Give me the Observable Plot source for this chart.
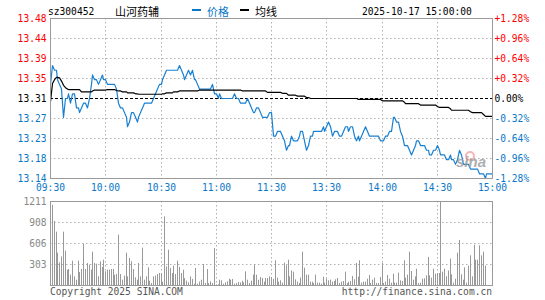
<!DOCTYPE html>
<html><head><meta charset="utf-8">
<script src="https://cdn.jsdelivr.net/npm/d3@7"></script>
<script src="https://cdn.jsdelivr.net/npm/@observablehq/plot@0.6"></script>
<style>
body{margin:0;background:#fff;}
#wrap{position:relative;width:545px;height:300px;overflow:hidden;font-family:"DejaVu Sans Mono",monospace;}
#wrap svg{position:absolute;left:0;top:0;overflow:visible;}
.t{position:absolute;white-space:nowrap;font-size:9.6px;line-height:10px;}
.c{position:absolute;white-space:nowrap;font-size:11px;line-height:12px;font-family:"Noto Sans CJK SC",sans-serif;}
.dash{position:absolute;height:2px;width:9px;}
</style></head><body><div id="wrap"></div>
<script>
const stockCode = "sz300452";
const stockName = "山河药辅";
const legendPrice = "价格";
const legendAvg = "均线";
const stamp = "2025-10-17 15:00:00";
const copyright = "Copyright 2025 SINA.COM";
const site = "http://finance.sina.com.cn";
const prevClose = 13.31;

const timeTicks = [0, 30, 60, 90, 120, 150, 180, 210, 240];
const timeLabels = ["09:30","10:00","10:30","11:00","11:30","13:30","14:00","14:30","15:00"];
const priceTicks = [13.48, 13.4375, 13.395, 13.3525, 13.31, 13.2675, 13.225, 13.1825, 13.14];
const priceLabels = ["13.48","13.44","13.39","13.35","13.31","13.27","13.23","13.18","13.14"];
const pctLabels = ["+1.28%","+0.96%","+0.64%","+0.32%","0.00%","-0.32%","-0.64%","-0.96%","-1.28%"];
const volTicks = [1211, 908.25, 605.5, 302.75];
const volLabels = ["1211","908","606","303"];

const price = [
13.34,13.38,13.37,13.37,13.35,13.34,13.33,13.27,13.31,13.31,
13.32,13.30,13.32,13.32,13.29,13.29,13.28,13.29,13.30,13.30,
13.29,13.31,13.34,13.36,13.35,13.35,13.34,13.35,13.36,13.35,
13.35,13.34,13.34,13.34,13.34,13.34,13.33,13.30,13.29,13.29,
13.28,13.27,13.25,13.26,13.28,13.28,13.27,13.26,13.27,13.28,
13.29,13.30,13.30,13.30,13.30,13.30,13.31,13.32,13.33,13.34,
13.34,13.35,13.36,13.37,13.37,13.37,13.37,13.37,13.37,13.37,
13.38,13.37,13.36,13.35,13.36,13.37,13.36,13.37,13.35,13.35,
13.34,13.33,13.33,13.33,13.33,13.33,13.33,13.33,13.34,13.32,
13.32,13.31,13.32,13.31,13.31,13.31,13.31,13.31,13.31,13.31,
13.32,13.31,13.31,13.30,13.30,13.30,13.30,13.31,13.30,13.29,
13.28,13.28,13.29,13.29,13.28,13.27,13.27,13.27,13.27,13.28,
13.28,13.23,13.23,13.24,13.24,13.24,13.23,13.22,13.20,13.21,
13.21,13.23,13.22,13.22,13.22,13.23,13.24,13.24,13.22,13.20,
13.21,13.23,13.23,13.24,13.24,13.24,13.24,13.24,13.25,13.24,
13.25,13.26,13.25,13.23,13.24,13.24,13.24,13.23,13.23,13.24,
13.25,13.25,13.24,13.25,13.25,13.23,13.22,13.23,13.22,13.23,
13.24,13.25,13.24,13.23,13.23,13.23,13.23,13.23,13.23,13.22,
13.22,13.22,13.23,13.23,13.24,13.24,13.27,13.27,13.26,13.26,
13.24,13.23,13.21,13.21,13.21,13.20,13.19,13.20,13.21,13.22,
13.22,13.21,13.21,13.21,13.20,13.20,13.19,13.19,13.20,13.20,
13.21,13.20,13.19,13.19,13.19,13.18,13.18,13.19,13.18,13.18,
13.17,13.18,13.20,13.19,13.17,13.17,13.17,13.17,13.16,13.16,
13.16,13.16,13.16,13.15,13.15,13.15,13.14,13.15,13.15,13.15,
13.15];

const avgPrice = [
13.303,13.342,13.350,13.355,13.355,13.354,13.347,13.338,13.333,13.330,
13.329,13.329,13.329,13.329,13.329,13.329,13.329,13.324,13.324,13.324,
13.324,13.324,13.324,13.326,13.328,13.328,13.328,13.328,13.328,13.328,
13.328,13.329,13.329,13.329,13.329,13.329,13.327,13.326,13.326,13.324,
13.324,13.324,13.322,13.322,13.322,13.322,13.320,13.320,13.319,13.319,
13.319,13.319,13.319,13.319,13.319,13.319,13.319,13.319,13.319,13.319,
13.319,13.320,13.320,13.322,13.322,13.322,13.322,13.324,13.324,13.324,
13.326,13.326,13.326,13.326,13.326,13.326,13.326,13.326,13.326,13.326,
13.326,13.328,13.328,13.328,13.328,13.328,13.328,13.328,13.328,13.328,
13.328,13.328,13.328,13.328,13.328,13.328,13.328,13.328,13.328,13.328,
13.328,13.328,13.328,13.328,13.326,13.326,13.326,13.326,13.326,13.326,
13.326,13.326,13.326,13.326,13.326,13.326,13.326,13.326,13.323,13.323,
13.323,13.323,13.323,13.323,13.323,13.323,13.321,13.321,13.321,13.317,
13.317,13.317,13.317,13.317,13.315,13.315,13.315,13.315,13.315,13.312,
13.312,13.310,13.310,13.310,13.310,13.310,13.310,13.310,13.310,13.310,
13.310,13.310,13.310,13.310,13.310,13.310,13.310,13.310,13.310,13.310,
13.310,13.310,13.310,13.310,13.310,13.310,13.310,13.308,13.308,13.308,
13.308,13.308,13.308,13.308,13.308,13.308,13.308,13.308,13.308,13.308,
13.305,13.305,13.305,13.305,13.305,13.305,13.305,13.305,13.305,13.305,
13.305,13.305,13.302,13.299,13.299,13.299,13.299,13.299,13.299,13.299,
13.299,13.296,13.296,13.296,13.296,13.296,13.296,13.296,13.296,13.296,
13.293,13.291,13.291,13.291,13.291,13.291,13.291,13.288,13.285,13.285,
13.285,13.285,13.285,13.285,13.285,13.285,13.285,13.285,13.282,13.280,
13.280,13.280,13.280,13.280,13.280,13.276,13.272,13.272,13.272,13.272,
13.272];

const volume = [
163,1157,923,769,466,327,413,769,495,221,
231,149,351,125,77,351,187,231,596,231,
317,293,221,481,317,308,125,341,260,365,
197,221,221,231,231,149,159,726,159,77,
135,466,125,389,341,231,111,77,317,125,
538,77,125,255,62,29,125,135,159,173,
173,48,990,269,509,245,173,279,159,351,
260,173,221,101,62,38,125,87,19,245,
19,48,77,303,29,231,29,53,29,533,
10,10,77,67,19,38,53,91,77,87,
19,29,43,38,62,38,197,77,29,62,
149,303,149,77,115,101,48,101,101,125,
115,87,356,106,48,67,34,322,284,365,
125,211,192,82,48,29,106,481,250,149,
149,48,48,29,149,34,34,19,120,34,
91,67,77,48,58,82,101,29,48,58,
192,29,48,58,130,82,317,120,356,34,
48,48,91,144,29,77,106,29,29,115,
317,29,48,144,91,34,163,34,34,178,
67,58,356,106,149,481,202,77,125,235,
29,34,91,96,139,404,139,106,235,163,
173,173,1211,192,235,125,211,380,154,34,
91,466,649,154,77,255,34,279,428,125,
581,365,365,572,428,481,279,0,0,0,
0];

const rows = price.map((p, i) => ({i, p, a: avgPrice[i], v: volume[i]}));
const timeRows = timeTicks.map((t, k) => ({t, label: timeLabels[k]}));
const pRows = priceTicks.map((v, k) => ({v, label: priceLabels[k], pct: pctLabels[k]}));
const upRows = pRows.filter(d => d.v > prevClose);
const flatRows = pRows.filter(d => d.v === prevClose);
const downRows = pRows.filter(d => d.v < prevClose);
const vRows = volTicks.map((v, k) => ({v, label: volLabels[k]}));

const RED = "#ff0000", BLUE = "#0a78c8", LINEBLUE = "#1880d2", GRID = "#b0b0b0", FRAME = "#9a9a9a";
const font = {background: "transparent", fontFamily: "DejaVu Sans Mono, monospace", fontSize: "9.6px"};
const dot = {stroke: GRID, strokeDasharray: "1.5,2.5"};

const pricePlot = Plot.plot({
  width: 545, height: 300,
  marginLeft: 50, marginRight: 53, marginTop: 18, marginBottom: 122,
  x: {domain: [0, 240], axis: null, round: true},
  y: {domain: [13.14, 13.48], axis: null},
  style: font,
  marks: [
    Plot.ruleY(priceTicks.filter(v => v !== prevClose && v !== 13.48 && v !== 13.14), dot),
    Plot.ruleX(timeTicks.slice(1, -1), dot),
    Plot.ruleY([prevClose], {stroke: "#000", strokeDasharray: "3,2"}),
    Plot.line(rows, {x: "i", y: "p", stroke: LINEBLUE, strokeWidth: 1.2}),
    Plot.line(rows, {x: "i", y: "a", stroke: "#000", strokeWidth: 1.2}),
    Plot.frame({stroke: FRAME}),
    Plot.text(upRows, {frameAnchor: "left", y: "v", text: "label", textAnchor: "end", dx: -4, fill: RED}),
    Plot.text(flatRows, {frameAnchor: "left", y: "v", text: "label", textAnchor: "end", dx: -4, fill: "#000"}),
    Plot.text(downRows, {frameAnchor: "left", y: "v", text: "label", textAnchor: "end", dx: -4, fill: BLUE}),
    Plot.text(upRows, {frameAnchor: "right", y: "v", text: "pct", textAnchor: "start", dx: 2, fill: RED}),
    Plot.text(flatRows, {frameAnchor: "right", y: "v", text: "pct", textAnchor: "start", dx: 2, fill: "#000"}),
    Plot.text(downRows, {frameAnchor: "right", y: "v", text: "pct", textAnchor: "start", dx: 2, fill: BLUE}),
    Plot.text(timeRows, {x: "t", frameAnchor: "bottom", text: "label", dy: 12.5, fill: BLUE})
  ]
});

const volPlot = Plot.plot({
  width: 545, height: 300,
  marginLeft: 50, marginRight: 53, marginTop: 201, marginBottom: 15,
  x: {domain: [0, 240], axis: null, round: true},
  y: {domain: [0, 1211], axis: null},
  style: font,
  marks: [
    Plot.ruleY(volTicks.slice(1), dot),
    Plot.ruleX(timeTicks.slice(1, -1), dot),
    Plot.ruleX(rows.filter(d => d.v > 0), {x: "i", y1: 0, y2: "v", stroke: "#999", strokeWidth: 1}),
    Plot.frame({stroke: FRAME}),
    Plot.text(vRows, {frameAnchor: "left", y: "v", text: "label", textAnchor: "end", dx: -4, fill: "#888"})
  ]
});

const wrap = document.getElementById("wrap");
wrap.appendChild(pricePlot);
wrap.appendChild(volPlot);

function addText(cls, txt, left, topPx, color, extra) {
  const d = document.createElement("div");
  d.className = cls; d.textContent = txt;
  d.style.left = left + "px"; d.style.top = topPx + "px"; d.style.color = color;
  if (extra) Object.assign(d.style, extra);
  wrap.appendChild(d);
  return d;
}
addText("t", stockCode, 48, 7, "#000");
addText("c", stockName, 115, 5, "#000");
const d1 = document.createElement("div"); d1.className = "dash"; d1.style.cssText += "left:192px;top:9px;background:" + BLUE; wrap.appendChild(d1);
addText("c", legendPrice, 207, 5, BLUE);
const d2 = document.createElement("div"); d2.className = "dash"; d2.style.cssText += "left:240px;top:9px;background:#000"; wrap.appendChild(d2);
addText("c", legendAvg, 255, 5, "#000");
addText("t", stamp, 362, 7, "#000");
addText("t", copyright, 50, 287, "#555");
addText("t", site, 0, 287, "#555", {left: "auto", right: (545 - 492) + "px"});
const logo = document.createElement("div");
logo.style.cssText = "position:absolute;left:465px;top:151px;width:10px;height:10px;border-radius:50%;border:2px solid rgba(230,90,90,0.45);box-sizing:border-box;";
wrap.appendChild(logo);
addText("t", "sina", 456, 157, "#9a9a9a", {fontFamily: "Liberation Sans, sans-serif", fontSize: "15px", fontStyle: "italic", fontWeight: "bold", opacity: "0.8"});
</script></body></html>
